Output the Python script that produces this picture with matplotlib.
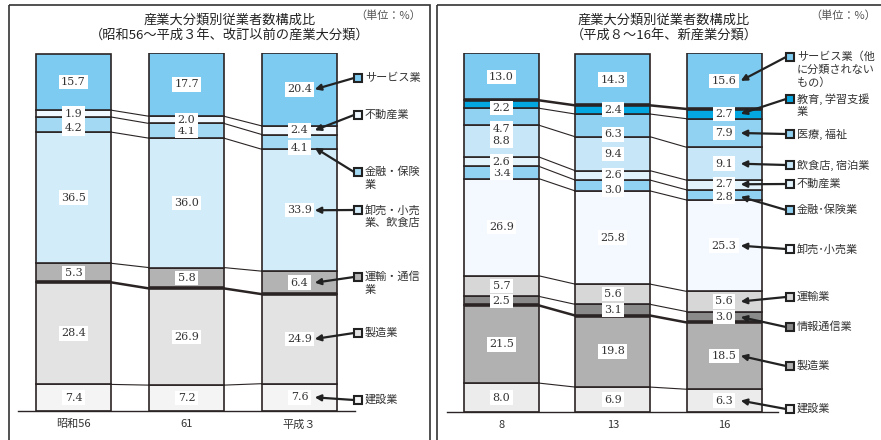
import matplotlib
matplotlib.use('Agg')
import matplotlib.pyplot as plt
from matplotlib.patches import Rectangle
import numpy as np

plt.rcParams['font.family'] = ['Noto Sans CJK JP', 'DejaVu Sans']

# ---------------- data ----------------
# Left panel (bottom -> top)
left_title = ['産業大分類別従業者数構成比', '（昭和56～平成３年、改訂以前の産業大分類）']
left_years = ['昭和56', '61', '平成３']
left_cats = [['建設業'], ['製造業'], ['運輸・通信', '業'], ['卸売・小売', '業、飲食店'],
             ['金融・保険', '業'], ['不動産業'], ['サービス業']]
left_s56 = [7.4, 28.4, 5.3, 36.5, 4.2, 1.9, 15.7]
left_s61 = [7.2, 26.9, 5.8, 36.0, 4.1, 2.0, 17.7]
left_h3 = [7.6, 24.9, 6.4, 33.9, 4.1, 2.4, 20.4]
left_colors = ['#f4f4f4', '#e3e3e3', '#b3b3b3', '#d3ecf9', '#a3d9f3', '#eef8fe', '#7ecbf1']

# Right panel (bottom -> top)
right_title = ['産業大分類別従業者数構成比', '（平成８～16年、新産業分類）']
right_years = ['8', '13', '16']
right_cats = [['建設業'], ['製造業'], ['情報通信業'], ['運輸業'], ['卸売･小売業'], ['金融･保険業'],
              ['不動産業'], ['飲食店, 宿泊業'], ['医療, 福祉'], ['教育, 学習支援', '業'],
              ['サービス業（他', 'に分類されない', 'もの）']]
right_h8 = [8.0, 21.5, 2.5, 5.7, 26.9, 3.4, 2.6, 8.8, 4.7, 2.2, 13.0]
right_h13 = [6.9, 19.8, 3.1, 5.6, 25.8, 3.0, 2.6, 9.4, 6.3, 2.4, 14.3]
right_h16 = [6.3, 18.5, 3.0, 5.6, 25.3, 2.8, 2.7, 9.1, 7.9, 2.7, 15.6]
right_colors = ['#ececec', '#b1b1b1', '#8a8a8a', '#d7d7d7', '#f3f9fe', '#91d1f1',
                '#e2f3fb', '#c7e7f8', '#91d1f1', '#05a7e1', '#7ecbf1']

W, H = 881, 440
EDGE = '#2b2424'

fig = plt.figure(figsize=(W / 100, H / 100), dpi=100)

# overlay in pixel coordinates for frames / legend items
ov = fig.add_axes([0, 0, 1, 1])
ov.set_xlim(0, W)
ov.set_ylim(H, 0)
ov.axis('off')
ov.patch.set_visible(False)


def px_axes(x0, x1, ybase, ytop):
    return fig.add_axes([x0 / W, (H - ybase) / H, (x1 - x0) / W, (ybase - ytop) / H])


def draw_panel(ax, series, colors, width, ytop, thick, offsets, years):
    n = len(series)
    cums = []
    for i, vals in enumerate(series):
        bottoms = np.concatenate([[0], np.cumsum(vals)[:-1]])
        cums.append(np.cumsum(vals))
        ax.bar([i] * len(vals), vals, width, bottom=bottoms, color=colors,
               edgecolor=EDGE, linewidth=1.2, zorder=2)
        for j in thick:
            ax.plot([i - width / 2, i + width / 2], [cums[-1][j]] * 2, color=EDGE,
                    lw=2.6, zorder=3, solid_capstyle='butt')
        for j, v in enumerate(vals):
            yc = bottoms[j] + v / 2 + offsets.get((i, j), 0)
            ax.text(i, yc, f'{v:.1f}', ha='center', va='center', fontsize=8,
                    family='DejaVu Serif', color='#333333', zorder=5,
                    bbox=dict(boxstyle='square,pad=0.2', fc='white', ec='none'))
    # connectors
    for i in range(n - 1):
        for j in range(len(series[i]) - 1):
            lw = 1.8 if j in thick else 0.8
            ax.plot([i + width / 2, i + 1 - width / 2], [cums[i][j], cums[i + 1][j]],
                    color=EDGE, lw=lw, zorder=1)
    ax.set_ylim(0, ytop)
    ax.set_xticks(range(n))
    ax.set_xticklabels(years, fontsize=8, color='#333333')
    ax.tick_params(axis='x', length=0, pad=6)
    ax.set_yticks([])
    for s in ['top', 'left', 'right']:
        ax.spines[s].set_visible(False)
    ax.spines['bottom'].set_color(EDGE)
    ax.spines['bottom'].set_linewidth(1.0)
    ax.patch.set_visible(False)


def legend(ax, series_last, cats, colors, mx, mys, dx, offsets, last_idx):
    bottoms = np.concatenate([[0], np.cumsum(series_last)[:-1]])
    for j, (lines, my) in enumerate(zip(cats, mys)):
        ov.add_patch(Rectangle((mx - 4, my - 4), 8, 8, fc=colors[j], ec='#222222', lw=1.5, zorder=6))
        for k, t in enumerate(lines):
            ov.text(mx + 7, my + 13 * k, t, ha='left', va='center', fontsize=8, color='#333333')
        yt = bottoms[j] + series_last[j] / 2 + offsets.get((last_idx, j), 0)
        ax.annotate('', xy=(last_idx + dx, yt), xycoords='data',
                    xytext=(mx - 4, H - my), textcoords='figure pixels',
                    arrowprops=dict(arrowstyle='-|>', color='#222222', lw=1.6,
                                    mutation_scale=9, shrinkA=0, shrinkB=0),
                    annotation_clip=False, zorder=7)


def titles(lines, xc, unit_x):
    ov.text(xc, 20, lines[0], ha='center', va='center', fontsize=9.5, color='#222222')
    ov.text(xc, 35, lines[1], ha='center', va='center', fontsize=9.5, color='#222222')
    ov.text(unit_x, 16, '（単位：%）', ha='right', va='center', fontsize=8, color='#555555')


# ---- left panel ----
ov.add_patch(Rectangle((9, 5), 421, 450, fill=False, ec='#333333', lw=1.2))
titles(left_title, 230, 421)
axl = px_axes(18, 355, 411, 53)
axl.set_xlim(-0.491, 2.491)
left_series = [left_s56, left_s61, left_h3]
left_off = {(0, 4): -1.1, (2, 4): -1.6}
draw_panel(axl, left_series, left_colors, 0.664, 99.6, [1], left_off, left_years)
legend(axl, left_h3, left_cats, left_colors, 358, [400, 333, 277, 210, 172, 115, 78],
       0.135, left_off, 2)

# ---- right panel ----
ov.add_patch(Rectangle((437, 5), 460, 450, fill=False, ec='#333333', lw=1.2))
titles(right_title, 664, 876)
axr = px_axes(447, 778, 412, 53)
axr.set_xlim(-0.49, 2.485)
right_series = [right_h8, right_h13, right_h16]
right_off = {(0, 8): -3.3, (1, 8): -2.5, (0, 9): -1.0, (1, 5): -1.1, (2, 5): -0.5,
             (2, 6): 0.2}
draw_panel(axr, right_series, right_colors, 0.674, 99.4, [1, 9], right_off, right_years)
legend(axr, right_h16, right_cats, right_colors, 790,
       [409, 366, 327, 297, 249, 210, 184, 165, 134, 99, 57],
       0.15, right_off, 2)

fig.savefig('out.png', dpi=100)
